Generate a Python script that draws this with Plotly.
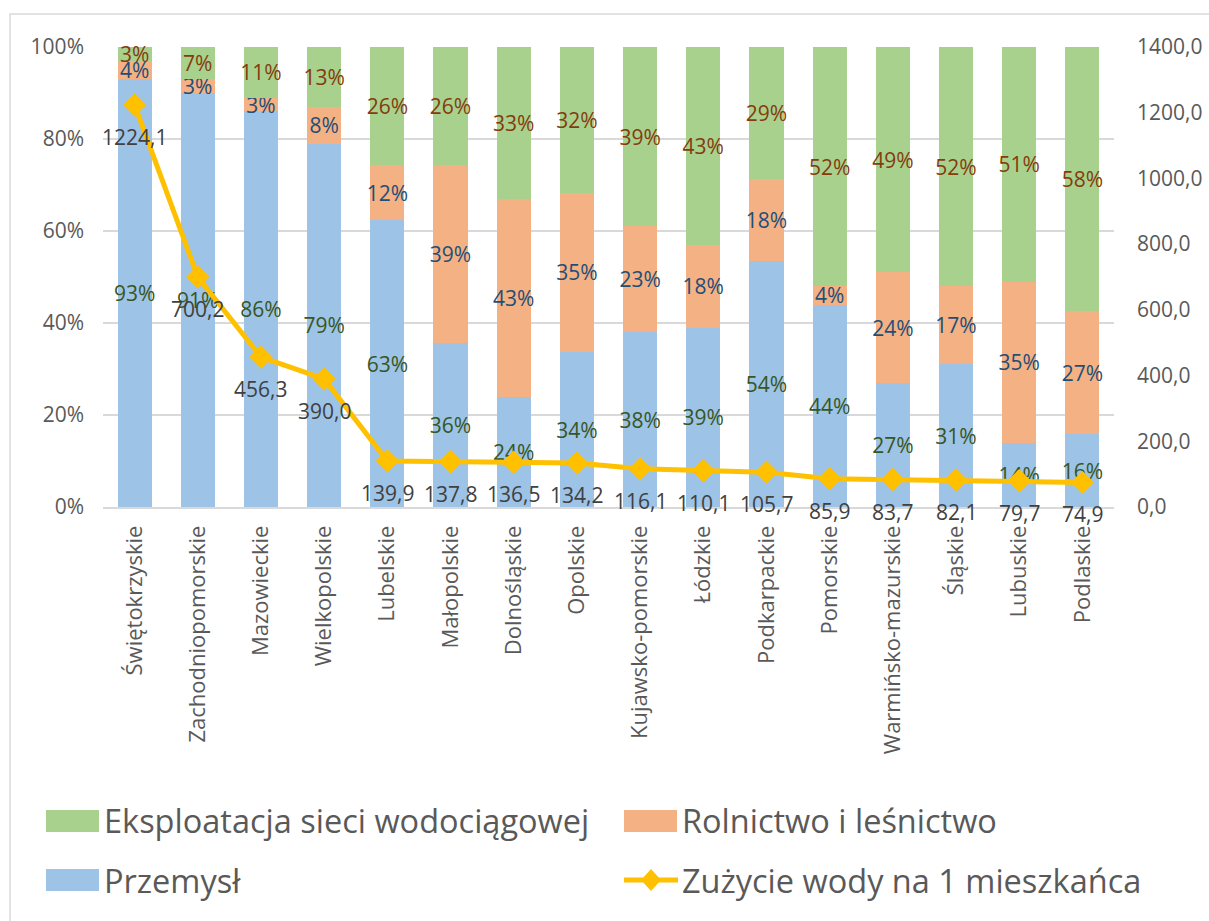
import plotly.graph_objects as go

regions = ["Świętokrzyskie", "Zachodniopomorskie", "Mazowieckie", "Wielkopolskie",
           "Lubelskie", "Małopolskie", "Dolnośląskie", "Opolskie", "Kujawsko-pomorskie",
           "Łódzkie", "Podkarpackie", "Pomorskie", "Warmińsko-mazurskie", "Śląskie",
           "Lubuskie", "Podlaskie"]

# shares (%) as printed on the chart
przemysl = [93, 91, 86, 79, 63, 36, 24, 34, 38, 39, 54, 44, 27, 31, 14, 16]
rolnictwo = [4, 3, 3, 8, 12, 39, 43, 35, 23, 18, 18, 4, 24, 17, 35, 27]
eksploatacja = [3, 7, 11, 13, 26, 26, 33, 32, 39, 43, 29, 52, 49, 52, 51, 58]
# water use per inhabitant (right axis)
zuzycie = [1224.1, 700.2, 456.3, 390.0, 139.9, 137.8, 136.5, 134.2, 116.1, 110.1, 105.7,
           85.9, 83.7, 82.1, 79.7, 74.9]

FONT = "Open Sans"
GREY = "#595959"
C_BLUE = "#9DC3E6"
C_ORANGE = "#F4B183"
C_GREEN = "#A9D18E"
C_LINE = "#FFC000"
LBL = 21

totals = [a + b + c for a, b, c in zip(przemysl, rolnictwo, eksploatacja)]

fig = go.Figure()

def add_bar(vals, name, color, txtcol):
    fig.add_trace(go.Bar(
        x=regions, y=[v / t for v, t in zip(vals, totals)], name=name,
        marker=dict(color=color, line=dict(width=0)),
        text=[f"{v}%" for v in vals], textposition="inside", insidetextanchor="middle",
        textangle=0, textfont=dict(color=txtcol, size=LBL, family=FONT),
        cliponaxis=False, showlegend=False, hoverinfo="skip"))

add_bar(przemysl, "Przemysł", C_BLUE, "#375623")
add_bar(rolnictwo, "Rolnictwo i leśnictwo", C_ORANGE, "#1F4E79")
add_bar(eksploatacja, "Eksploatacja sieci wodociągowej", C_GREEN, "#843C0C")

fig.add_trace(go.Scatter(x=regions, y=zuzycie, yaxis="y2", mode="lines+markers",
                         name="Zużycie wody na 1 mieszkańca",
                         line=dict(color=C_LINE, width=5),
                         marker=dict(symbol="diamond", size=18, color=C_LINE),
                         cliponaxis=False, showlegend=False, hoverinfo="skip"))

annotations = []
for r, v in zip(regions, zuzycie):
    annotations.append(dict(x=r, y=v, xref="x", yref="y2", text=f"{v:.1f}".replace(".", ","),
                            showarrow=False, yshift=-32,
                            font=dict(family=FONT, size=LBL, color="#404040")))

# manual legend (pixel positions converted to paper coords)
L, R, T, B = 103, 1114, 47, 507
def px(x):
    return (x - L) / (R - L)
def py(y):
    return (B - y) / (B - T)

shapes = []
legend_items = [
    ("Eksploatacja sieci wodociągowej", C_GREEN, 46, 821, "box"),
    ("Rolnictwo i leśnictwo", C_ORANGE, 624, 821, "box"),
    ("Przemysł", C_BLUE, 46, 880, "box"),
    ("Zużycie wody na 1 mieszkańca", C_LINE, 624, 880, "line"),
]
for label, col, x0, yc, kind in legend_items:
    if kind == "box":
        shapes.append(dict(type="rect", xref="paper", yref="paper",
                           x0=px(x0), x1=px(x0 + 53), y0=py(yc - 11), y1=py(yc + 11),
                           fillcolor=col, line=dict(width=0)))
    else:
        shapes.append(dict(type="line", xref="paper", yref="paper",
                           x0=px(x0), x1=px(x0 + 54), y0=py(yc), y1=py(yc),
                           line=dict(color=col, width=5)))
        cx = x0 + 27
        shapes.append(dict(type="path", xref="paper", yref="paper",
                           path=f"M {px(cx - 10)},{py(yc)} L {px(cx)},{py(yc - 11)} L {px(cx + 10)},{py(yc)} L {px(cx)},{py(yc + 11)} Z",
                           fillcolor=col, line=dict(width=0)))
    annotations.append(dict(x=px(x0 + 56), y=py(yc), xref="paper", yref="paper", text=label,
                            showarrow=False, xanchor="left", yanchor="middle",
                            font=dict(family=FONT, size=32.5, color=GREY)))

# outer chart frame
shapes.append(dict(type="rect", xref="paper", yref="paper", layer="below",
                   x0=px(10), x1=px(1230), y0=py(940), y1=py(14),
                   line=dict(color="#D9D9D9", width=1.5), fillcolor="rgba(0,0,0,0)"))

fig.update_layout(
    barmode="stack",
    bargap=0.46,
    width=1209, height=921,
    margin=dict(l=L, r=1209 - R, t=T, b=921 - B, autoexpand=False),
    paper_bgcolor="white", plot_bgcolor="white",
    separators=", ",
    font=dict(family=FONT, size=LBL, color=GREY),
    showlegend=False,
    hovermode=False,
    uniformtext=dict(minsize=LBL, mode="show"),
    xaxis=dict(range=[-0.5, len(regions) - 0.5], tickangle=-90,
               tickfont=dict(size=22, color=GREY, family=FONT), ticklabelstandoff=8,
               showline=True, linecolor="#D9D9D9", linewidth=1.5, ticks="", showgrid=False),
    yaxis=dict(range=[0, 1], dtick=0.2, tickformat=".0%", showgrid=True, gridcolor="#D9D9D9",
               gridwidth=1.5, zeroline=False, ticks="", ticklabelstandoff=18,
               tickfont=dict(size=LBL, color=GREY, family=FONT)),
    yaxis2=dict(range=[0, 1400], dtick=200, tickformat=".1f", overlaying="y", side="right",
                showgrid=False, zeroline=False, ticks="", ticklabelstandoff=22,
                tickfont=dict(size=LBL, color=GREY, family=FONT)),
    annotations=annotations,
    shapes=shapes,
)

fig.write_html("out.html", config={"displayModeBar": False},
               post_script="document.body.style.margin='0px';document.body.style.overflow='hidden';")
